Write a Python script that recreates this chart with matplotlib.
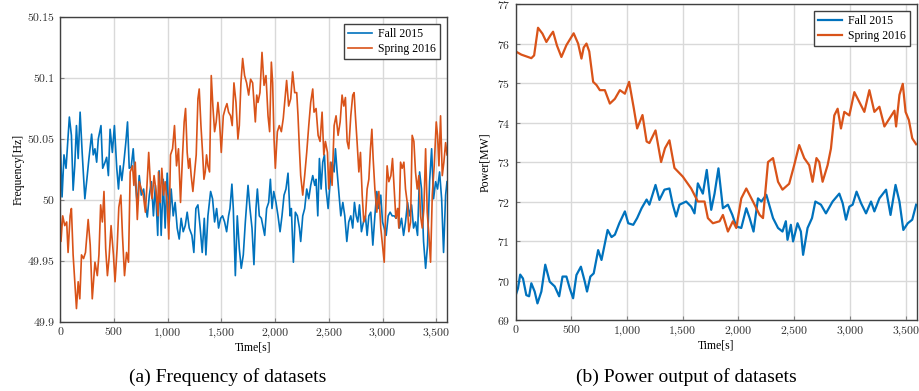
import matplotlib
matplotlib.use("Agg")
import matplotlib.pyplot as plt
from matplotlib.ticker import FuncFormatter

# frequency, Fall 2015 (blue)
f_fall_t = [0, 19, 37, 56, 87, 106, 122, 137, 153, 169, 187, 206, 231, 250, 269, 294, 309, 325, 341, 356,
            381, 397, 419, 434, 450, 466, 487, 506, 528, 544, 559, 575, 594, 612, 628, 644, 662, 681, 700, 719,
            737, 756, 778, 794, 812, 831, 850, 869, 887, 909,
            922, 941, 960, 978, 997, 1016, 1034, 1053, 1071, 1090, 1109, 1127, 1146, 1165, 1183, 1202, 1227, 1245,
            1264, 1283, 1304, 1323, 1342, 1357, 1376, 1401, 1419, 1438, 1457, 1475, 1494, 1512, 1531, 1550, 1568,
            1581, 1599, 1612, 1631, 1649, 1668, 1686, 1705, 1724, 1749, 1767, 1786, 1804,
            1823, 1836, 1854, 1873, 1891, 1904, 1922, 1941, 1957, 1972, 1988, 2009, 2028, 2047, 2065, 2084, 2102,
            2121, 2140, 2152, 2171, 2189, 2208, 2227, 2239, 2258, 2276, 2295, 2314, 2332, 2351, 2370, 2382, 2398,
            2413, 2429, 2444, 2460, 2475, 2494, 2513, 2531, 2550, 2562, 2578, 2593, 2612, 2631, 2649, 2668, 2686,
            2705,
            2723, 2739, 2755, 2770, 2786, 2804, 2823, 2841, 2857, 2873, 2891, 2910, 2929, 2947, 2966, 2984, 3000,
            3016, 3034, 3053, 3071, 3090, 3109, 3127, 3146, 3158, 3177, 3196, 3214, 3233, 3252, 3270, 3289, 3307,
            3326, 3345, 3363, 3382, 3401, 3419, 3438, 3457, 3475, 3494, 3512, 3531, 3550, 3568, 3587, 3600]
f_fall = [50.056, 50.0025, 50.037, 50.026, 50.068, 50.053, 50.008, 50.028, 50.061, 50.034, 50.072, 50.039,
          50.001, 50.017, 50.034, 50.054, 50.037, 50.042, 50.031, 50.05, 50.061, 50.026, 50.031, 50.035, 50.02,
          50.058, 50.039, 50.061, 50.026, 50.009, 50.028, 50.016, 50.031, 50.047, 50.064, 50.026, 50.027, 50.042,
          50.015, 49.996, 50.02, 50.004, 50.009, 49.996, 49.986, 50.004, 50.015, 49.987, 50.012, 49.971,
          50.024, 49.971, 50.017, 49.977, 50.022, 49.982, 50.009, 49.987, 49.998, 49.977, 49.968, 49.985, 49.974,
          49.979, 49.99, 49.977, 49.971, 49.957, 49.993, 49.996, 49.977, 49.957, 49.985, 49.955, 49.987, 50.007,
          50.001, 49.982, 49.993, 49.977, 49.985, 49.987, 49.982, 49.974, 49.987, 49.993, 50.013, 49.993, 49.938,
          49.987, 49.96, 49.944, 49.955, 49.982, 50.012, 49.993, 49.977, 49.947,
          49.993, 50.009, 49.987, 49.985, 49.977, 49.971, 49.993, 49.998, 50.017, 49.993, 50.007, 49.998, 49.987,
          49.974, 49.987, 50.004, 50.009, 50.022, 49.987, 49.993, 49.949, 49.99, 49.987, 49.977, 49.966, 49.987,
          49.993, 50.009, 50.001, 50.012, 50.02, 50.012, 50.017, 49.987, 50.034, 50.009, 50.031, 50.037, 50.009,
          49.993, 50.015, 50.031, 50.023, 50.042, 50.023, 50.007, 49.987, 49.998, 49.987, 49.966, 49.982, 49.987,
          49.977, 49.998, 49.987, 49.982, 49.996, 49.974, 49.982, 49.987, 49.971, 49.987, 49.99, 49.963, 49.987,
          50.007, 49.993, 50.004, 49.982, 49.977, 49.971, 49.987, 49.99, 49.987, 49.987, 49.985, 49.993, 49.977,
          49.985, 49.971, 49.982, 49.998, 49.987, 49.996, 49.977, 49.982, 49.971, 50.023, 50.009, 49.966, 49.944,
          49.963, 50.015, 50.042, 50.001, 50.015, 50.009, 50.023, 50.001, 49.957, 50.004, 50.015]

# frequency, Spring 2016 (orange)
f_spring_t = [0, 9, 25, 44, 62, 75, 94, 106, 122, 137, 153, 169, 184, 200, 219, 237, 262, 281, 300, 325, 347,
              362, 378, 394, 409, 425, 441, 456, 475, 497, 512, 531, 547, 566, 581, 600, 619, 637, 653, 675, 687,
              700, 719, 737, 756, 775, 794, 809, 825, 844, 856, 875, 894, 912,
              916, 932, 947, 963, 978, 997, 1012, 1028, 1047, 1065, 1084, 1102, 1121, 1140, 1155, 1168, 1183, 1196,
              1208, 1220, 1236, 1252, 1267, 1283, 1295, 1311, 1326, 1339, 1351, 1363, 1376, 1391, 1407, 1422, 1438,
              1453, 1469, 1481, 1500, 1519, 1537, 1553, 1568, 1587, 1602, 1618, 1637, 1655, 1668, 1683, 1699, 1717,
              1736, 1755, 1773, 1792, 1811,
              1817, 1830, 1842, 1860, 1879, 1898, 1916, 1935, 1950, 1966, 1978, 1991, 2003, 2022, 2040, 2059, 2077,
              2096, 2108, 2127, 2146, 2164, 2183, 2202, 2214, 2227, 2239, 2258, 2276, 2295, 2314, 2332, 2351, 2363,
              2382, 2401, 2419, 2438, 2454, 2469, 2488, 2500, 2516, 2531, 2550, 2568, 2587, 2606, 2624, 2640, 2655,
              2671, 2686, 2705,
              2723, 2736, 2748, 2764, 2780, 2795, 2811, 2826, 2842, 2857, 2873, 2888, 2901, 2913, 2929, 2947, 2966,
              2984, 3003, 3016, 3028, 3043, 3059, 3078, 3093, 3109, 3124, 3140, 3152, 3168, 3183, 3199, 3214, 3230,
              3245, 3261, 3276, 3292, 3307, 3323, 3338, 3354, 3370, 3385, 3401, 3416, 3432, 3447, 3463, 3481, 3500,
              3512, 3525, 3540, 3556, 3571, 3587, 3600]
f_spring = [49.993, 49.966, 49.987, 49.979, 49.982, 49.957, 49.987, 49.993, 49.955, 49.933, 49.911, 49.933,
            49.919, 49.955, 49.952, 49.957, 49.984, 49.963, 49.919, 49.949, 49.938, 49.955, 49.996, 49.982, 50.007,
            49.96, 49.938, 49.952, 49.979, 49.955, 49.933, 49.96, 49.994, 50.004, 49.971, 49.938, 49.957, 49.949,
            50.023, 50.028, 50.012, 50.031, 49.984, 50.015, 50.009, 50.004, 49.99, 50.012, 50.039, 50.009, 50.001,
            50.02, 50.007, 49.987,
            50.023, 49.998, 50.026, 50.004, 50.015, 49.998, 49.968, 50.037, 50.042, 50.061, 50.028, 50.042, 49.998,
            50.037, 50.064, 50.075, 50.039, 50.026, 50.034, 50.02, 50.007, 50.023, 50.037, 50.083, 50.091, 50.061,
            50.039, 50.017, 50.023, 50.037, 50.028, 50.023, 50.102, 50.077, 50.056, 50.064, 50.08, 50.069, 50.039,
            50.069, 50.075, 50.079, 50.072, 50.069, 50.061, 50.096, 50.08, 50.05, 50.061, 50.096, 50.116, 50.102,
            50.096, 50.086, 50.099, 50.096, 50.072,
            50.064, 50.086, 50.08, 50.088, 50.121, 50.094, 50.102, 50.069, 50.056, 50.113, 50.096, 50.05, 50.026,
            50.056, 50.061, 50.056, 50.067, 50.086, 50.098, 50.077, 50.083, 50.105, 50.088, 50.088, 50.069, 50.042,
            50.02, 50.004, 50.02, 50.039, 50.061, 50.08, 50.091, 50.072, 50.075, 50.053, 50.048, 50.072, 50.037,
            50.048, 50.039, 50.009, 50.031, 50.012, 50.061, 50.069, 50.053, 50.064, 50.086, 50.077, 50.084, 50.048,
            50.042, 50.069,
            50.086, 50.088, 50.069, 50.047, 50.023, 50.039, 50.004, 49.982, 49.987, 50.009, 50.017, 50.042, 50.058,
            50.034, 50.009, 49.99, 50.007, 49.977, 49.96, 49.949, 49.987, 50.028, 50.015, 50.02, 50.034, 50.009,
            49.985, 49.993, 49.977, 50.031, 50.026, 50.031, 50.009, 49.998, 49.974, 49.982, 50.053, 50.048, 50.023,
            50.009, 50.02, 49.987, 49.977, 49.993, 50.042, 49.99, 49.971, 49.949, 50.004, 50.028, 50.064, 50.053,
            50.028, 50.069, 50.02, 50.031, 50.047, 50.037]

# power output, Fall 2015 (blue)
p_fall_t = [0, 20, 40, 65, 95, 120, 140, 170, 195, 230, 265, 305, 350, 390, 420, 455, 485, 515, 545, 585, 620,
            640, 670, 700, 740, 770, 825, 860, 890, 930, 980, 1010, 1055, 1090, 1130, 1175, 1200, 1255, 1290,
            1335, 1380, 1410, 1440, 1470, 1530, 1575, 1605, 1635, 1680, 1715, 1755, 1785, 1820, 1860, 1905, 1945,
            1980, 2025, 2070, 2100, 2135, 2175, 2205, 2250, 2310, 2355, 2395, 2425, 2440, 2470, 2490, 2530, 2560,
            2580, 2620, 2660, 2690, 2740, 2785, 2845, 2905, 2935, 2965, 2995, 3025, 3060, 3100, 3145, 3190, 3220,
            3265, 3325, 3365, 3385, 3410, 3445, 3480, 3520, 3560, 3595]
p_fall = [69.63, 69.8, 70.15, 70.05, 69.63, 69.6, 69.93, 69.72, 69.42, 69.72, 70.4, 69.97, 69.85, 69.6, 70.1,
          70.1, 69.8, 69.55, 70.14, 70.35, 69.97, 69.72, 70.1, 70.18, 70.77, 70.52, 71.28, 71.1, 71.16, 71.45,
          71.75, 71.45, 71.41, 71.58, 71.83, 72.05, 71.92, 72.42, 72.04, 72.3, 72.33, 71.92, 71.62, 71.92, 72.0,
          71.87, 71.7, 72.46, 72.2, 72.8, 71.79, 72.2, 72.84, 71.83, 71.92, 71.66, 71.37, 71.33, 71.83, 71.58,
          71.24, 72.08, 72.0, 72.17, 71.58, 71.33, 71.24, 71.5, 71.03, 71.41, 70.99, 71.45, 71.24, 70.65, 71.33,
          71.58, 72.0, 71.92, 71.7, 72.0, 72.2, 71.96, 71.54, 71.87, 71.92, 72.25, 71.96, 71.7, 72.0, 71.75,
          72.08, 72.3, 71.66, 72.0, 72.42, 72.0, 71.28, 71.45, 71.54, 71.92]

# power output, Spring 2016 (orange)
p_spring_t = [0, 50, 100, 140, 165, 200, 240, 275, 310, 335, 370, 410, 455, 520, 560, 590, 610, 635, 660, 695,
              725, 755, 800, 845, 890, 935, 980, 1018, 1060, 1090, 1138, 1175, 1200, 1255, 1305, 1340, 1380, 1425,
              1500, 1575, 1635, 1695, 1725, 1770, 1830, 1860, 1905, 1950, 1980, 2025, 2070, 2130, 2190, 2220,
              2265, 2310, 2355, 2395, 2455, 2500, 2545, 2590, 2635, 2665, 2700, 2725, 2755, 2800, 2830, 2860, 2890,
              2920, 2950, 2995, 3040, 3085, 3130, 3175, 3220, 3265, 3310, 3355, 3400, 3415, 3445, 3475, 3500, 3530,
              3560, 3595]
p_spring = [75.8, 75.72, 75.67, 75.63, 75.7, 76.4, 76.25, 76.04, 76.2, 76.3, 75.95, 75.66, 75.96, 76.26, 76.0,
            75.62, 75.9, 76.0, 75.8, 75.03, 74.95, 74.82, 74.82, 74.48, 74.6, 74.82, 74.73, 75.03, 74.36, 73.85,
            74.19, 73.52, 73.48, 73.8, 73.0, 73.35, 73.55, 72.85, 72.63, 72.33, 72.0, 72.0, 71.58, 71.45, 71.5,
            71.66, 71.24, 71.5, 71.33, 72.08, 72.33, 72.0, 71.66, 71.58, 73.0, 73.1, 72.5, 72.3, 72.45, 72.92,
            73.43, 73.1, 72.92, 72.5, 73.1, 73.0, 72.5, 72.92, 73.34, 74.18, 74.35, 73.85, 74.27, 74.18, 74.77,
            74.52, 74.27, 74.82, 74.27, 74.4, 73.9, 74.1, 74.3, 73.9, 74.7, 74.98, 74.27, 74.06, 73.6, 73.45]

BLUE = "#0072BD"
ORANGE = "#D95319"
SERIF = ["Liberation Serif", "DejaVu Serif"]
TICKFONT = ["cmr10", "DejaVu Serif"]

plt.rcParams["axes.formatter.use_mathtext"] = True

fig = plt.figure(figsize=(9.19, 3.91), dpi=100)
ax1 = fig.add_axes([0.0653, 0.1765, 0.4211, 0.78])
ax2 = fig.add_axes([0.5612, 0.1816, 0.4363, 0.808])


def style(ax):
    ax.grid(True, color="#d9d9d9", linewidth=1.0)
    ax.set_axisbelow(True)
    for s in ax.spines.values():
        s.set_color("#404040")
        s.set_linewidth(1.0)
    ax.tick_params(direction="in", length=3, color="#808080", labelsize=8.5, pad=4,
                   labelfontfamily="cmr10", labelcolor="#303030")
    ax.xaxis.set_major_formatter(FuncFormatter(lambda v, p: f"{v:,.0f}"))
    ax.set_xlim(0, 3600)
    ax.set_xticks([0, 500, 1000, 1500, 2000, 2500, 3000, 3500])
    ax.set_xlabel("Time[s]", family=SERIF, fontsize=8.5, labelpad=3)
    leg = ax.legend(loc="upper right", fancybox=False, edgecolor="#404040", framealpha=1,
                    prop={"family": SERIF, "size": 8.5}, handlelength=2.0, handletextpad=0.5,
                    borderpad=0.35, labelspacing=0.25, borderaxespad=0.6)
    leg.get_frame().set_linewidth(1.0)


ax1.plot(f_fall_t, f_fall, color=BLUE, lw=1.2, label="Fall 2015")
ax1.plot(f_spring_t, f_spring, color=ORANGE, lw=1.2, label="Spring 2016")
ax1.set_ylim(49.9, 50.15)
ax1.set_yticks([49.9, 49.95, 50.0, 50.05, 50.1, 50.15])
ax1.yaxis.set_major_formatter(FuncFormatter(lambda v, p: f"{v:g}"))
ax1.set_ylabel("Frequency[Hz]", family=SERIF, fontsize=8.5, labelpad=2)
style(ax1)

ax2.plot(p_fall_t, p_fall, color=BLUE, lw=1.6, label="Fall 2015")
ax2.plot(p_spring_t, p_spring, color=ORANGE, lw=1.6, label="Spring 2016")
ax2.set_ylim(69, 77)
ax2.set_yticks(range(69, 78))
ax2.set_ylabel("Power[MW]", family=SERIF, fontsize=8.5, labelpad=4)
style(ax2)

fig.text(0.2476, 0.037, "(a) Frequency of datasets", family=SERIF, fontsize=14, ha="center", va="center")
fig.text(0.7465, 0.037, "(b) Power output of datasets", family=SERIF, fontsize=14, ha="center", va="center")

fig.savefig("out.png", dpi=100)
